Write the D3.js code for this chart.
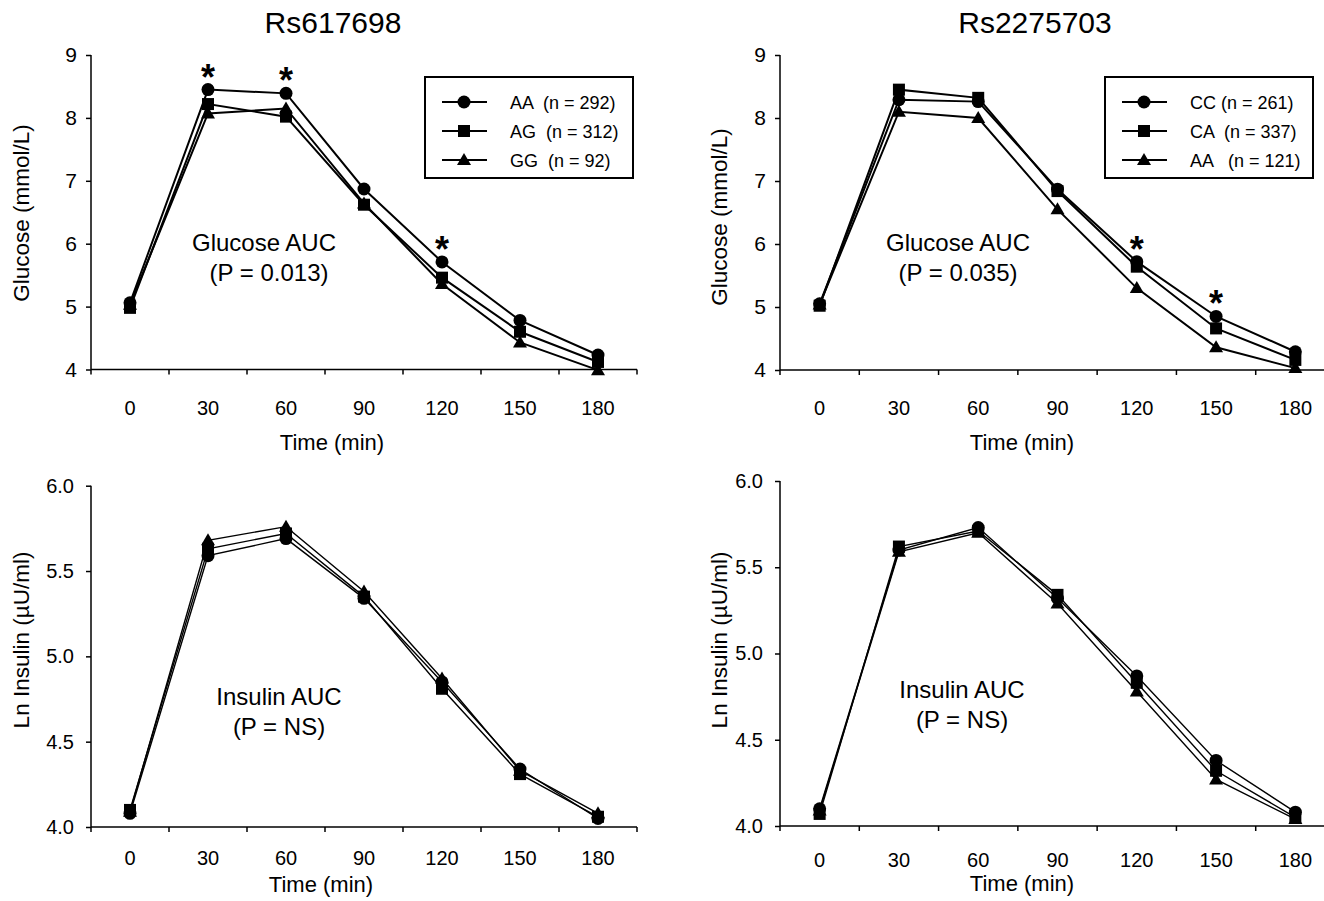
<!DOCTYPE html>
<html>
<head>
<meta charset="utf-8">
<script src="https://cdn.jsdelivr.net/npm/d3@7/dist/d3.min.js"></script>
<style>
  body { margin: 0; background: #fff; }
  svg text { font-family: "Liberation Sans", Arial, sans-serif; fill: #000; }
</style>
</head>
<body>
<div id="chart"></div>
<script>
// time points (min)
var times = ["0", "30", "60", "90", "120", "150", "180"];

// Rs617698 glucose (mmol/L)
var g1_AA = [5.06, 8.45, 8.39, 6.87, 5.71, 4.78, 4.23];
var g1_AG = [4.98, 8.22, 8.02, 6.62, 5.46, 4.60, 4.12];
var g1_GG = [5.03, 8.07, 8.15, 6.64, 5.36, 4.43, 3.99];
// Rs2275703 glucose (mmol/L)
var g2_CC = [5.05, 8.29, 8.26, 6.87, 5.72, 4.85, 4.29];
var g2_CA = [5.02, 8.45, 8.32, 6.84, 5.64, 4.66, 4.16];
var g2_AA = [5.04, 8.10, 8.00, 6.55, 5.30, 4.36, 4.03];
// Rs617698 ln insulin
var i1_AA = [4.08, 5.59, 5.69, 5.34, 4.85, 4.34, 4.05];
var i1_AG = [4.10, 5.63, 5.72, 5.35, 4.81, 4.31, 4.06];
var i1_GG = [4.09, 5.68, 5.76, 5.38, 4.87, 4.33, 4.08];
// Rs2275703 ln insulin
var i2_CC = [4.10, 5.60, 5.73, 5.32, 4.87, 4.38, 4.08];
var i2_CA = [4.07, 5.62, 5.71, 5.34, 4.83, 4.32, 4.05];
var i2_AA = [4.09, 5.59, 5.70, 5.29, 4.78, 4.27, 4.04];

var glucoseTicks = [4, 5, 6, 7, 8, 9];
var insulinTicks = [4.0, 4.5, 5.0, 5.5, 6.0];

var legend1 = ["AA  (n = 292)", "AG  (n = 312)", "GG  (n = 92)"];
var legend2 = ["CC (n = 261)", "CA  (n = 337)", "AA   (n = 121)"];

var star1 = ["30", "60", "120"];
var star2 = ["120", "150"];

var svg = d3.select("#chart").append("svg")
    .attr("width", 1324).attr("height", 901);

var markers = ["circle", "square", "triangle"];

function drawMarker(g, type, x, y) {
    if (type == "circle") {
        g.append("circle").attr("cx", x).attr("cy", y).attr("r", 6.5).attr("fill", "#000");
    } else if (type == "square") {
        g.append("rect").attr("x", x - 6).attr("y", y - 6).attr("width", 12).attr("height", 12).attr("fill", "#000");
    } else {
        g.append("path").attr("d", "M" + x + "," + (y - 7) + "L" + (x + 7) + "," + (y + 5) + "L" + (x - 7) + "," + (y + 5) + "Z").attr("fill", "#000");
    }
}

function panel(p) {
    var g = svg.append("g");
    var x = d3.scaleBand().domain(times).range([p.left, p.right]).paddingInner(0).paddingOuter(0);
    var y = d3.scaleLinear().domain(p.yDomain).range([p.bottom, p.top]);

    // y axis
    var ya = g.append("g").attr("transform", "translate(" + p.left + ",0)")
        .call(d3.axisLeft(y).tickValues(p.yTicks).tickFormat(d3.format(p.fmt)).tickSize(5).tickPadding(p.yPad));
    ya.select(".domain").attr("stroke-width", 1.5).attr("d", "M0," + p.top + "V" + p.bottom);
    ya.selectAll(".tick line").attr("stroke-width", 1.5);
    ya.selectAll("text").style("font-size", p.yFont + "px");

    // x axis: labels at band centres, ticks at band edges
    var xa = g.append("g").attr("transform", "translate(0," + p.bottom + ")")
        .call(d3.axisBottom(x).tickSize(0).tickPadding(p.xPad));
    xa.select(".domain").attr("stroke-width", 1.5).attr("d", "M" + p.left + ",0H" + p.right);
    xa.selectAll("text").style("font-size", "20px");
    d3.range(times.length + 1).forEach(function(i) {
        var xx = p.left + i * x.step();
        xa.append("line").attr("x1", xx).attr("x2", xx).attr("y1", 0).attr("y2", 5)
            .attr("stroke", "#000").attr("stroke-width", 1.5);
    });

    // axis titles
    g.append("text").attr("x", p.xTitle[0]).attr("y", p.xTitle[1])
        .attr("text-anchor", "middle").style("font-size", "22px").text("Time (min)");
    g.append("text").attr("transform", "translate(" + p.yTitle[0] + "," + p.yTitle[1] + ") rotate(-90)")
        .attr("text-anchor", "middle").attr("dy", "0.35em").style("font-size", "22.5px").text(p.yLabel);

    // series lines and markers
    var line = d3.line().x(function(d, i) { return x(times[i]) + x.bandwidth() / 2; })
        .y(function(d) { return y(d); });
    p.series.slice().reverse().forEach(function(s) {
        g.append("path").datum(s).attr("d", line).attr("fill", "none")
            .attr("stroke", "#000").attr("stroke-width", p.lw);
    });
    p.series.slice().reverse().forEach(function(s, k) {
        var idx = p.series.length - 1 - k;
        s.forEach(function(v, i) {
            drawMarker(g, markers[idx], x(times[i]) + x.bandwidth() / 2, y(v));
        });
    });

    // significance stars
    (p.stars || []).forEach(function(t) {
        var i = times.indexOf(t);
        var top = d3.max(p.series, function(s) { return s[i]; });
        g.append("text").attr("x", x(t) + x.bandwidth() / 2).attr("y", y(top) - 21 + 21)
            .attr("text-anchor", "middle").style("font-size", "36px").style("font-weight", "bold").text("*");
    });

    // AUC annotation
    g.append("text").attr("x", p.note[0]).attr("y", p.note[1])
        .attr("text-anchor", "middle").style("font-size", "24px").text(p.noteText[0]);
    g.append("text").attr("x", p.note[0] + p.note2dx).attr("y", p.note[1] + 30)
        .attr("text-anchor", "middle").style("font-size", "24px").text(p.noteText[1]);

    // legend
    if (p.legend) {
        var lg = g.append("g");
        lg.append("rect").attr("x", p.legendBox[0]).attr("y", p.legendBox[1])
            .attr("width", 208).attr("height", 101).attr("fill", "#fff")
            .attr("stroke", "#000").attr("stroke-width", 2);
        p.legend.forEach(function(name, i) {
            var ly = p.legendBox[1] + 25 + i * 29;
            var lx = p.legendBox[0] + 17;
            lg.append("line").attr("x1", lx).attr("x2", lx + 45).attr("y1", ly).attr("y2", ly)
                .attr("stroke", "#000").attr("stroke-width", 2);
            drawMarker(lg, markers[i], lx + 22, ly);
            lg.append("text").attr("x", lx + 68).attr("y", ly + 6.5)
                .style("font-size", "18px").style("white-space", "pre").text(name);
        });
    }
}

// panel titles
svg.append("text").attr("x", 333).attr("y", 33).attr("text-anchor", "middle")
    .style("font-size", "30px").text("Rs617698");
svg.append("text").attr("x", 1035).attr("y", 33).attr("text-anchor", "middle")
    .style("font-size", "30px").text("Rs2275703");

panel({
    left: 91, right: 637, top: 55, bottom: 369.5,
    yDomain: [4, 9], yTicks: glucoseTicks, fmt: "d", yPad: 9, yFont: 21, xPad: 31,
    series: [g1_AA, g1_AG, g1_GG], lw: 2,
    yLabel: "Glucose (mmol/L)", yTitle: [21, 213], xTitle: [332, 450],
    stars: star1, note: [264, 251], note2dx: 5, noteText: ["Glucose AUC", "(P = 0.013)"],
    legend: legend1, legendBox: [425, 77]
});
panel({
    left: 780, right: 1335, top: 55, bottom: 370,
    yDomain: [4, 9], yTicks: glucoseTicks, fmt: "d", yPad: 9, yFont: 21, xPad: 31,
    series: [g2_CC, g2_CA, g2_AA], lw: 2,
    yLabel: "Glucose (mmol/L)", yTitle: [719, 217], xTitle: [1022, 450],
    stars: star2, note: [958, 251], note2dx: 0, noteText: ["Glucose AUC", "(P = 0.035)"],
    legend: legend2, legendBox: [1105, 77]
});
panel({
    left: 91, right: 637, top: 485.7, bottom: 827,
    yDomain: [4, 6], yTicks: insulinTicks, fmt: ".1f", yPad: 12, yFont: 20, xPad: 24,
    series: [i1_AA, i1_AG, i1_GG], lw: 1.4,
    yLabel: "Ln Insulin (\u00b5U/ml)", yTitle: [21, 640], xTitle: [321, 892],
    note: [279, 705], note2dx: 0, noteText: ["Insulin AUC", "(P = NS)"]
});
panel({
    left: 780, right: 1335, top: 481, bottom: 826,
    yDomain: [4, 6], yTicks: insulinTicks, fmt: ".1f", yPad: 12, yFont: 20, xPad: 27,
    series: [i2_CC, i2_CA, i2_AA], lw: 1.4,
    yLabel: "Ln Insulin (\u00b5U/ml)", yTitle: [719, 640], xTitle: [1022, 891],
    note: [962, 698], note2dx: 0, noteText: ["Insulin AUC", "(P = NS)"]
});
</script>
</body>
</html>
